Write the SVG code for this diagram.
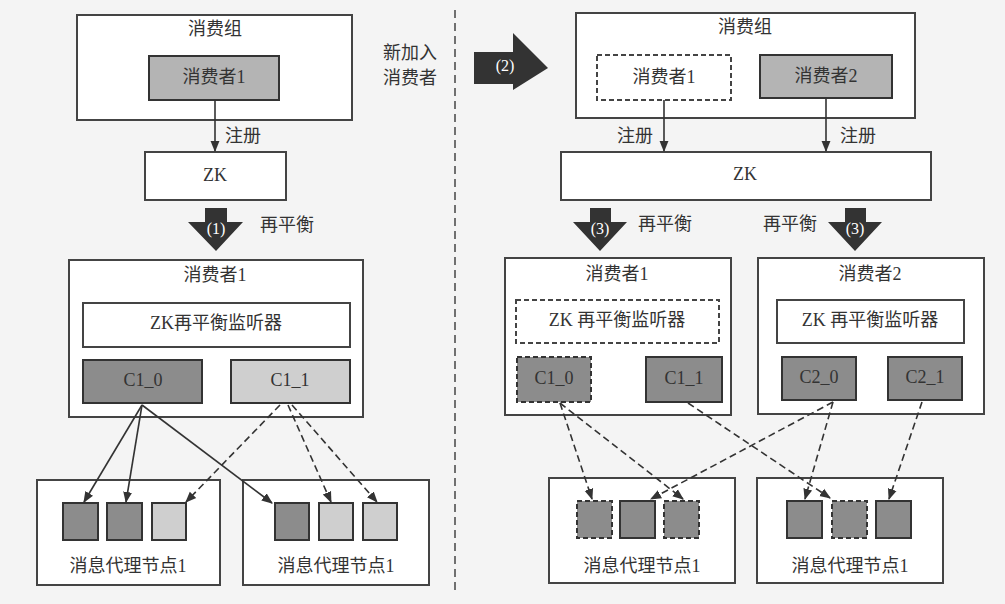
<svg xmlns="http://www.w3.org/2000/svg" width="1005" height="604" viewBox="0 0 1005 604">
<defs>
<marker id="ah" viewBox="0 0 10 10" refX="9" refY="5" markerWidth="7" markerHeight="7" orient="auto"><path d="M0,1 L10,5 L0,9 z" fill="#333"/></marker>
<style>
text{font-family:"Liberation Serif","Noto Sans CJK SC",serif;font-size:18px;fill:#333;text-anchor:middle;dominant-baseline:middle}
.box{fill:#fff;stroke:#444;stroke-width:2}
.dk{fill:#8c8c8c;stroke:#333;stroke-width:2}
.md{fill:#b4b4b4;stroke:#333;stroke-width:2}
.lt{fill:#cfcfcf;stroke:#333;stroke-width:2}
.ds{stroke-dasharray:5,3}
.ln{stroke:#333;stroke-width:1.6;fill:none;marker-end:url(#ah)}
.dl{stroke-dasharray:7,4}
.blk{fill:#333}
.wt{fill:#fff;font-size:16px}
</style>
</defs>
<rect width="1005" height="604" fill="#f4f4f4"/>
<line x1="455" y1="10" x2="455" y2="592" stroke="#444" stroke-width="1.5" stroke-dasharray="8,5"/>
<g id="left-group"><rect class="box" x="77" y="15" width="275" height="105"/><text x="215" y="31">消费组</text></g>
<g id="left-c1"><rect class="md" x="149" y="56" width="130" height="44"/><text x="214" y="79">消费者1</text></g>
<g id="left-zk"><rect class="box" x="145" y="152" width="141" height="48"/><text x="215" y="177">ZK</text></g>
<g id="step1"><path class="blk" d="M205,208 H227 V222 H243 L216,251 L188,222 H205 Z"/><text class="wt" x="216" y="230">(1)</text></g>
<text x="287" y="227">再平衡</text>
<text x="243" y="138">注册</text>
<g id="left-consumer1"><rect class="box" x="69" y="260" width="294" height="157"/><text x="215" y="277">消费者1</text>
<rect class="box" x="83" y="303" width="267" height="44"/><text x="216" y="325">ZK再平衡监听器</text></g>
<g id="c1_0"><rect class="dk" x="83" y="360" width="119" height="43"/><text x="143" y="382">C1_0</text></g>
<g id="c1_1"><rect class="lt" x="231" y="360" width="119" height="43"/><text x="290" y="382">C1_1</text></g>
<g id="lb1"><rect class="box" x="37" y="480" width="183" height="105"/>
<rect class="dk" x="63" y="503" width="35" height="37"/><rect class="dk" x="107" y="503" width="35" height="37"/><rect class="lt" x="152" y="503" width="34" height="37"/>
<text x="128" y="568">消息代理节点1</text></g>
<g id="lb2"><rect class="box" x="243" y="480" width="186" height="105"/>
<rect class="dk" x="275" y="503" width="34" height="37"/><rect class="lt" x="319" y="503" width="34" height="37"/><rect class="lt" x="363" y="503" width="34" height="37"/>
<text x="336" y="568">消息代理节点1</text></g>
<text x="410" y="55">新加入</text><text x="410" y="80">消费者</text>
<g id="step2"><path class="blk" d="M474,52 H513 V33 L548,68 L513,90 V84 H474 Z"/><text class="wt" x="505" y="67">(2)</text></g>
<g id="right-group"><rect class="box" x="576" y="13" width="339" height="105"/><text x="745" y="29">消费组</text>
<rect class="box ds" x="597" y="55" width="134" height="45"/><text x="664" y="79">消费者1</text>
<rect class="md" x="760" y="55" width="132" height="43"/><text x="826" y="78">消费者2</text></g>
<g id="right-zk"><rect class="box" x="561" y="152" width="370" height="48"/><text x="745" y="176">ZK</text></g>
<text x="635" y="138">注册</text><text x="858" y="138">注册</text>
<g id="step3a"><path class="blk" d="M590,208 H611 V222 H627 L600,251 L573,222 H590 Z"/><text class="wt" x="600" y="230">(3)</text></g>
<g id="step3b"><path class="blk" d="M845,208 H866 V222 H882 L855,251 L828,222 H845 Z"/><text class="wt" x="855" y="230">(3)</text></g>
<text x="665" y="226">再平衡</text><text x="790" y="226">再平衡</text>
<g id="right-consumer1"><rect class="box" x="505" y="258" width="226" height="157"/><text x="617" y="276">消费者1</text>
<rect class="box ds" x="516" y="300" width="203" height="43"/><text x="617" y="322">ZK 再平衡监听器</text>
<rect class="dk ds" x="517" y="357" width="74" height="45"/><text x="554" y="380">C1_0</text>
<rect class="dk" x="646" y="357" width="76" height="45"/><text x="684" y="380">C1_1</text></g>
<g id="right-consumer2"><rect class="box" x="758" y="258" width="226" height="156"/><text x="870" y="276">消费者2</text>
<rect class="box" x="777" y="300" width="187" height="43"/><text x="870" y="322">ZK 再平衡监听器</text>
<rect class="dk" x="782" y="357" width="74" height="43"/><text x="819" y="379">C2_0</text>
<rect class="dk" x="888" y="357" width="74" height="43"/><text x="925" y="379">C2_1</text></g>
<g id="rb1"><rect class="box" x="549" y="478" width="186" height="105"/>
<rect class="dk ds" x="577" y="501" width="35" height="37"/><rect class="dk" x="620" y="501" width="35" height="37"/><rect class="dk ds" x="664" y="501" width="35" height="37"/>
<text x="642" y="568">消息代理节点1</text></g>
<g id="rb2"><rect class="box" x="757" y="478" width="186" height="105"/>
<rect class="dk" x="787" y="501" width="35" height="37"/><rect class="dk ds" x="832" y="501" width="35" height="37"/><rect class="dk" x="876" y="501" width="35" height="37"/>
<text x="850" y="568">消息代理节点1</text></g>
<g id="connectors">
<line class="ln" x1="215" y1="100" x2="215" y2="151"/>
<line class="ln" x1="664" y1="100" x2="664" y2="151"/>
<line class="ln" x1="826" y1="98" x2="826" y2="151"/>
<line class="ln" x1="142" y1="405" x2="84" y2="502"/>
<line class="ln" x1="142" y1="405" x2="126" y2="502"/>
<line class="ln" x1="142" y1="405" x2="272" y2="503"/>
<line class="ln dl" x1="280" y1="405" x2="186" y2="502"/>
<line class="ln dl" x1="288" y1="405" x2="331" y2="502"/>
<line class="ln dl" x1="292" y1="405" x2="377" y2="502"/>
<line class="ln dl" x1="560" y1="403" x2="592" y2="499"/>
<line class="ln dl" x1="560" y1="403" x2="683" y2="499"/>
<line class="ln dl" x1="688" y1="403" x2="830" y2="498"/>
<line class="ln dl" x1="833" y1="402" x2="651" y2="499"/>
<line class="ln dl" x1="833" y1="402" x2="805" y2="499"/>
<line class="ln dl" x1="922" y1="402" x2="889" y2="499"/>
</g>
</svg>
